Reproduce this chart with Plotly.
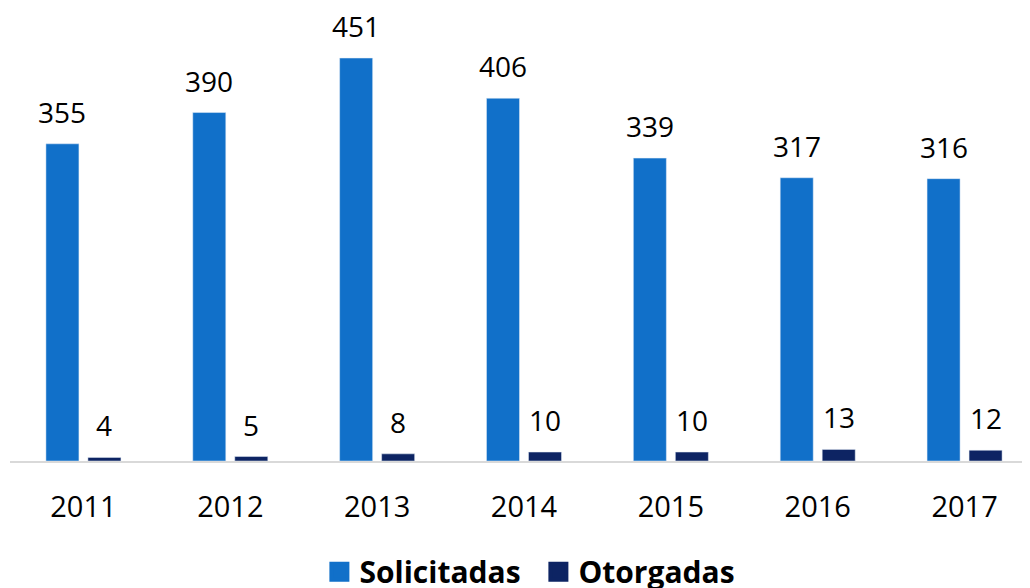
import plotly.graph_objects as go

years = ["2011", "2012", "2013", "2014", "2015", "2016", "2017"]
solicitadas = [355, 390, 451, 406, 339, 317, 316]
otorgadas = [4, 5, 8, 10, 10, 13, 12]

C_SOL = "#1170C9"
C_OTO = "#0D2463"
FONT = "Open Sans"

fig = go.Figure()
fig.add_trace(go.Bar(x=years, y=solicitadas, name="Solicitadas", marker_color=C_SOL, showlegend=False))
fig.add_trace(go.Bar(x=years, y=otorgadas, name="Otorgadas", marker_color=C_OTO, showlegend=False))
for name, col in [("Solicitadas", C_SOL), ("Otorgadas", C_OTO)]:
    fig.add_trace(go.Scatter(x=[None], y=[None], mode="markers", name=name,
                             marker=dict(symbol="square", size=16, color=col, line=dict(color=col, width=4))))

annotations = []
for i, (s, o) in enumerate(zip(solicitadas, otorgadas)):
    annotations.append(dict(x=i, y=s, text=str(s), xshift=-21, yshift=11, yanchor="bottom",
                            showarrow=False, font=dict(family=FONT, size=28, color="#000")))
    annotations.append(dict(x=i, y=o, text=str(o), xshift=21, yshift=11, yanchor="bottom",
                            showarrow=False, font=dict(family=FONT, size=28, color="#000")))

fig.update_layout(
    width=1030, height=588,
    margin=dict(l=2, r=0, t=0, b=135, autoexpand=False),
    paper_bgcolor="white", plot_bgcolor="white",
    barmode="group", bargap=0.428, bargroupgap=0.214,
    annotations=annotations,
    font=dict(family=FONT, color="#000"),
    legend=dict(orientation="h", x=0.514, xanchor="center", y=-0.187, yanchor="top",
                font=dict(family=FONT, size=30, color="#000", weight="bold"),
                itemwidth=30, traceorder="normal", entrywidth=174, entrywidthmode="pixels"),
    xaxis=dict(type="category", range=[-0.5, 6.5], showline=True, linecolor="#D9D9D9", linewidth=2,
               tickfont=dict(size=29, family=FONT),
               ticks="outside", ticklen=19, tickcolor="rgba(0,0,0,0)", showgrid=False),
    yaxis=dict(range=[0, 507], visible=False, showgrid=False),
)

fig.write_html("out.html")
